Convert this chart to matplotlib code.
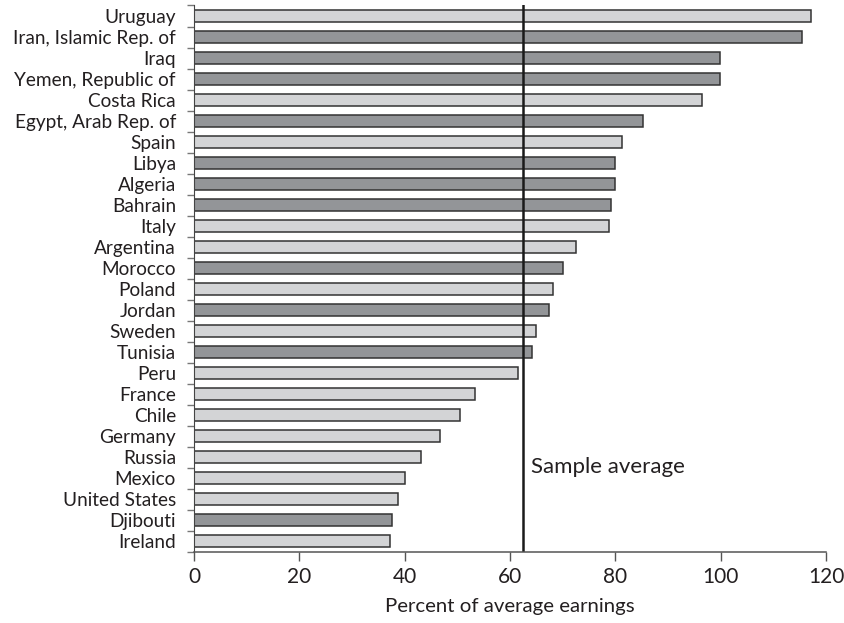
import numpy as np
import matplotlib.pyplot as plt
from matplotlib.ticker import FixedLocator

countries = ["Uruguay", "Iran, Islamic Rep. of", "Iraq", "Yemen, Republic of",
             "Costa Rica", "Egypt, Arab Rep. of", "Spain", "Libya", "Algeria",
             "Bahrain", "Italy", "Argentina", "Morocco", "Poland", "Jordan",
             "Sweden", "Tunisia", "Peru", "France", "Chile", "Germany",
             "Russia", "Mexico", "United States", "Djibouti", "Ireland"]
values = [117.2, 115.4, 99.9, 99.9, 96.5, 85.2, 81.2, 80.0, 80.0, 79.2, 78.8,
          72.5, 70.0, 68.2, 67.5, 65.0, 64.1, 61.6, 53.4, 50.5, 46.7, 43.1,
          40.1, 38.7, 37.6, 37.2]
# 1 = MENA country (dark bar), 0 = comparator (light bar)
mena = [0, 1, 1, 1, 0, 1, 0, 1, 1, 1, 0, 0, 1, 0, 1, 0, 1, 0, 0, 0, 0, 0,
        0, 0, 1, 0]
sample_avg = 62.4
xticks = [0, 20, 40, 60, 80, 100, 120]

plt.rcParams['font.family'] = ['Lato', 'DejaVu Sans']
txt = '#231f20'

fig = plt.figure(figsize=(8.45, 6.23), dpi=100)
ax = fig.add_axes([0.2296, 0.114, 0.7479, 0.8772])

y = np.arange(len(countries))
colors = ['#939598' if m else '#d3d4d6' for m in mena]
ax.barh(y, values, height=0.57, color=colors, edgecolor='#333333', linewidth=1.1)
ax.axvline(sample_avg, color='#1a1a1a', linewidth=1.8)
ax.text(sample_avg + 1.5, 21.45, "Sample average", fontsize=16, color=txt,
        va='center', ha='left')

ax.set_xlim(0, 120)
ax.set_ylim(len(countries) - 0.5, -0.5)
ax.set_xticks(xticks)
ax.set_yticks(y)
ax.set_yticklabels(countries)
ax.yaxis.set_minor_locator(FixedLocator(np.arange(-0.5, len(countries), 1)))
ax.tick_params(axis='y', which='major', length=0, pad=13, labelsize=13.7,
               labelcolor=txt)
ax.tick_params(axis='y', which='minor', length=5, width=1, color='#777777')
ax.tick_params(axis='x', length=6.5, width=1, color='#555555', pad=4,
               labelsize=15, labelcolor=txt)
ax.set_xlabel("Percent of average earnings", fontsize=14.7, color=txt, labelpad=8)

for s in ['top', 'right']:
    ax.spines[s].set_visible(False)
ax.spines['left'].set_color('#444444')
ax.spines['bottom'].set_color('#555555')
ax.spines['bottom'].set_linewidth(1.1)

plt.savefig('out.png', dpi=100)
